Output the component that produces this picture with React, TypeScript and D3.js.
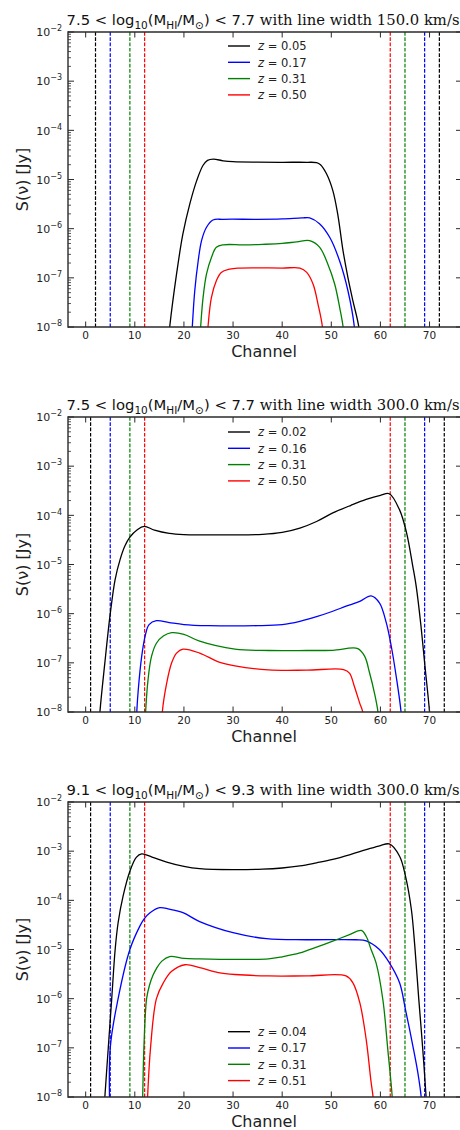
import React from "react";
import * as d3 from "d3";

type Pt = [number, number];

// Axis ticks
const CHANNEL_TICKS = [0, 10, 20, 30, 40, 50, 60, 70];
const FLUX_EXPONENTS = [-8, -7, -6, -5, -4, -3, -2];
const SERIES_COLORS = ["#000000", "#0000ff", "#008000", "#ff0000"];

// Panel 1: 7.5 < log M_HI < 7.7, line width 150 km/s
const P1_REDSHIFTS = ["0.05", "0.17", "0.31", "0.50"];
const P1_EDGES: Pt[] = [[2, 72], [5, 69], [9, 65], [12, 62]];
const P1_Z0: Pt[] = [
  [16.6, 3e-9], [17.1, 1e-8], [18.5, 1.2e-7], [19.8, 7.9e-7], [21.2, 3.2e-6], [22.6, 9.5e-6],
  [23.9, 1.95e-5], [24.8, 2.45e-5], [26, 2.6e-5], [28, 2.4e-5], [30, 2.3e-5], [35, 2.25e-5],
  [40, 2.24e-5], [45, 2.24e-5], [47, 2.2e-5], [47.8, 2.0e-5], [49, 1.32e-5], [50.3, 6.0e-6],
  [51.3, 2.0e-6], [52.4, 3.5e-7], [53.4, 1.0e-7], [54.4, 3.4e-8], [55.6, 1e-8], [56, 3e-9],
];
const P1_Z1: Pt[] = [
  [21.4, 3e-9], [21.7, 1e-8], [22.2, 5.4e-8], [22.9, 2.2e-7], [23.6, 5.8e-7], [24.6, 1.07e-6],
  [25.9, 1.5e-6], [28, 1.55e-6], [35, 1.55e-6], [40, 1.58e-6], [44, 1.65e-6], [45.6, 1.66e-6],
  [47.6, 1.26e-6], [49.7, 6.6e-7], [51.7, 2.2e-7], [53.4, 5.4e-8], [54.7, 1e-8], [55, 3e-9],
];
const P1_Z2: Pt[] = [
  [23.1, 3e-9], [23.4, 1e-8], [23.9, 4e-8], [24.6, 1.2e-7], [25.6, 2.6e-7], [26.6, 4.2e-7],
  [28, 4.7e-7], [32, 4.7e-7], [36, 4.8e-7], [40, 5.0e-7], [43, 5.4e-7], [45.6, 5.7e-7],
  [47.6, 4.2e-7], [49.3, 1.9e-7], [50.7, 7.4e-8], [51.7, 2.5e-8], [52.4, 1e-8], [52.7, 3e-9],
];
const P1_Z3: Pt[] = [
  [24.6, 3e-9], [24.9, 1e-8], [25.6, 4e-8], [26.6, 8.7e-8], [27.6, 1.29e-7], [29.3, 1.5e-7],
  [31, 1.58e-7], [40, 1.58e-7], [43.6, 1.58e-7], [45, 1.29e-7], [46.3, 7.4e-8], [47.3, 2.9e-8],
  [48.2, 1e-8], [48.5, 3e-9],
];

// Panel 2: 7.5 < log M_HI < 7.7, line width 300 km/s
const P2_REDSHIFTS = ["0.02", "0.16", "0.31", "0.50"];
const P23_EDGES: Pt[] = [[1, 73], [5, 69], [9, 65], [12, 62]];
const P2_Z0: Pt[] = [
  [2.6, 3e-9], [2.9, 1e-8], [3.9, 1e-7], [5.0, 1e-6], [6.0, 5.0e-6], [7.0, 1.26e-5], [8.0, 2.4e-5],
  [9.0, 3.6e-5], [10.5, 5.1e-5], [11.9, 5.96e-5], [14, 5.0e-5], [17, 4.3e-5], [20, 4.07e-5],
  [30, 4.0e-5], [36, 4.1e-5], [40, 4.5e-5], [43.6, 5.5e-5], [47, 7.5e-5], [50.3, 1.12e-4],
  [54, 1.6e-4], [57.1, 2.1e-4], [60, 2.55e-4], [61.8, 2.75e-4], [63.9, 1.29e-4], [65.3, 4.5e-5],
  [66.6, 9.1e-6], [67.3, 3.5e-6], [68.2, 6.3e-7], [69.1, 7.9e-8], [70, 1e-8], [70.3, 3e-9],
];
const P2_Z1: Pt[] = [
  [10.2, 3e-9], [10.4, 1e-8], [10.7, 2.8e-8], [11.4, 1.35e-7], [12.1, 3.5e-7], [12.9, 6.0e-7],
  [14.4, 7.2e-7], [17, 6.6e-7], [20, 6.0e-7], [25, 5.7e-7], [35, 5.7e-7], [40, 6.0e-7],
  [43.6, 7.0e-7], [47, 8.7e-7], [50.3, 1.12e-6], [53, 1.42e-6], [55.8, 1.78e-6], [58.1, 2.3e-6],
  [59.8, 1.66e-6], [61.2, 6.5e-7], [62.2, 2.2e-7], [63.2, 5.4e-8], [64.2, 1e-8], [64.5, 3e-9],
];
const P2_Z2: Pt[] = [
  [12.0, 3e-9], [12.2, 1e-8], [12.7, 4.6e-8], [13.4, 1.35e-7], [14.4, 2.5e-7], [15.8, 3.5e-7],
  [17.5, 4.1e-7], [20, 3.8e-7], [23.2, 2.75e-7], [30.4, 1.9e-7], [37.2, 1.78e-7], [45, 1.78e-7],
  [50.3, 1.8e-7], [55.4, 1.95e-7], [56.8, 1.35e-7], [57.8, 6.2e-8], [58.8, 2.4e-8], [59.5, 1e-8],
  [59.8, 3e-9],
];
const P2_Z3: Pt[] = [
  [15.4, 3e-9], [15.6, 1e-8], [16.5, 3.9e-8], [17.5, 1e-7], [18.5, 1.58e-7], [19.8, 1.9e-7],
  [23.2, 1.58e-7], [27, 1.05e-7], [30.4, 8.7e-8], [37.2, 7.2e-8], [45, 7.1e-8], [52.5, 7.3e-8],
  [53.7, 6.2e-8], [54.7, 3.3e-8], [55.8, 1.5e-8], [56.4, 1e-8], [56.7, 3e-9],
];

// Panel 3: 9.1 < log M_HI < 9.3, line width 300 km/s
const P3_REDSHIFTS = ["0.04", "0.17", "0.31", "0.51"];
const P3_Z0: Pt[] = [
  [3.6, 3e-9], [3.9, 1e-8], [4.6, 1e-7], [5.3, 1e-6], [6.0, 1.0e-5], [6.6, 3.5e-5], [7.6, 1.2e-4],
  [9.0, 3.9e-4], [10.3, 7.5e-4], [11.4, 8.8e-4], [13.5, 7.6e-4], [16.5, 6.0e-4], [20, 4.9e-4],
  [23.2, 4.4e-4], [30, 4.2e-4], [36, 4.3e-4], [40, 4.55e-4], [43.6, 5.0e-4], [47, 5.8e-4],
  [50.3, 6.8e-4], [54, 8.6e-4], [57.1, 1.07e-3], [60, 1.3e-3], [61.8, 1.4e-3], [63.9, 7.9e-4],
  [65.1, 3.1e-4], [66.3, 6.5e-5], [67.0, 1.17e-5], [67.8, 1e-6], [68.6, 1e-7], [69.3, 1e-8],
  [69.6, 3e-9],
];
const P3_Z1: Pt[] = [
  [4.98, 3e-9], [5.0, 1e-7], [6.6, 1e-6], [9.0, 1e-5], [11, 2.95e-5], [11.9, 4.2e-5], [13.1, 5.6e-5],
  [15.1, 7.1e-5], [17, 6.6e-5], [19.8, 5.6e-5], [23.2, 3.7e-5], [30.0, 2.2e-5], [36.8, 1.66e-5],
  [45, 1.58e-5], [55, 1.58e-5], [57.1, 1.5e-5], [59.8, 1e-5], [61.8, 5.4e-6], [63.9, 2.1e-6],
  [65.1, 6.0e-7], [66.6, 1.1e-7], [67.6, 3.2e-8], [68.3, 1e-8], [68.6, 3e-9],
];
const P3_Z2: Pt[] = [
  [11.4, 3e-9], [11.6, 1e-8], [11.85, 1e-7], [12.4, 1e-6], [13.0, 1.9e-6], [13.7, 3.0e-6],
  [14.4, 4.1e-6], [15.5, 5.8e-6], [17.1, 7.2e-6], [20, 6.6e-6], [23.2, 6.45e-6], [30.4, 6.3e-6],
  [37.2, 6.45e-6], [40, 7.1e-6], [43.6, 8.5e-6], [47, 1.12e-5], [50.3, 1.48e-5], [53.7, 2.0e-5],
  [56.1, 2.45e-5], [57.1, 1.86e-5], [58.1, 1e-5], [59.1, 5.4e-6], [60.5, 9.5e-7], [61.5, 9.3e-8],
  [62.4, 1e-8], [62.6, 3e-9],
];
const P3_Z3: Pt[] = [
  [12.4, 3e-9], [12.6, 1e-8], [13.2, 1e-7], [14.4, 1e-6], [15.8, 2.1e-6], [17.5, 3.6e-6],
  [20.2, 4.9e-6], [23.2, 4.3e-6], [27, 3.4e-6], [30.4, 3.1e-6], [37.2, 2.9e-6], [45, 2.9e-6],
  [53.0, 2.9e-6], [54.4, 2.1e-6], [55.8, 8.3e-7], [57.1, 1.48e-7], [58.1, 2e-8], [58.5, 1e-8],
  [58.7, 3e-9],
];

const SANS = "'DejaVu Sans', sans-serif";
const SERIF = "'DejaVu Serif', serif";
const AXIS = "#2a2a2a";

const LEFT = 68;
const RIGHT = 460;
const PLOT_H = 295;

type PanelProps = {
  id: string;
  top: number;
  massLo: string;
  massHi: string;
  width: string;
  redshifts: string[];
  series: Pt[][];
  edges: Pt[];
  legendTop: number;
};

function Panel({ id, top, massLo, massHi, width, redshifts, series, edges, legendTop }: PanelProps) {
  const bottom = top + PLOT_H;
  const x = d3.scaleLinear().domain([-3.6, 76.2]).range([LEFT, RIGHT]);
  const y = d3.scaleLog().domain([1e-8, 1e-2]).range([bottom, top]);
  const line = d3
    .line<Pt>()
    .x((d) => x(d[0]))
    .y((d) => y(d[1]))
    .curve(d3.curveCatmullRom.alpha(0.5));

  const minors: number[] = [];
  for (let e = -8; e < -2; e++) {
    for (let k = 2; k <= 9; k++) minors.push(k * Math.pow(10, e));
  }
  const cx = (LEFT + RIGHT) / 2;
  const sub = 10.5;

  return (
    <g>
      <defs>
        <clipPath id={`clip-${id}`}>
          <rect x={LEFT} y={top} width={RIGHT - LEFT} height={PLOT_H} />
        </clipPath>
      </defs>

      {/* band-edge markers */}
      <g clipPath={`url(#clip-${id})`}>
        {edges.map((pair, i) =>
          pair.map((c) => (
            <line
              key={`${i}-${c}`}
              x1={x(c)}
              x2={x(c)}
              y1={top}
              y2={bottom}
              stroke={SERIES_COLORS[i]}
              strokeWidth={1.2}
              strokeDasharray="3.7 1.6"
            />
          ))
        )}
        {series.map((s, i) => (
          <path key={i} d={line(s) ?? ""} fill="none" stroke={SERIES_COLORS[i]} strokeWidth={1.3} />
        ))}
      </g>

      {/* legend */}
      {redshifts.map((z, i) => {
        const ly = legendTop + i * 16.3;
        return (
          <g key={z}>
            <line x1={228} x2={250} y1={ly} y2={ly} stroke={SERIES_COLORS[i]} strokeWidth={1.4} />
            <text x={258} y={ly + 4.2} fontFamily={SANS} fontSize={11.5} fill="#222" style={{ whiteSpace: "pre" }}>
              <tspan fontStyle="italic">z</tspan>
              <tspan>{` = ${z}`}</tspan>
            </text>
          </g>
        );
      })}

      {/* ticks */}
      {CHANNEL_TICKS.map((c) => (
        <g key={c}>
          <line x1={x(c)} x2={x(c)} y1={bottom} y2={bottom - 5.5} stroke={AXIS} strokeWidth={1} />
          <line x1={x(c)} x2={x(c)} y1={top} y2={top + 5.5} stroke={AXIS} strokeWidth={1} />
          <text x={x(c)} y={bottom + 12} textAnchor="middle" fontFamily={SANS} fontSize={10.5} fill="#222">
            {c}
          </text>
        </g>
      ))}
      {minors.map((v) => (
        <line key={v} x1={LEFT} x2={LEFT + 3} y1={y(v)} y2={y(v)} stroke={AXIS} strokeWidth={0.8} />
      ))}
      {FLUX_EXPONENTS.map((e) => {
        const yy = y(Math.pow(10, e));
        return (
          <g key={e}>
            <line x1={LEFT} x2={LEFT + 6} y1={yy} y2={yy} stroke={AXIS} strokeWidth={1} />
            <line x1={RIGHT} x2={RIGHT - 4} y1={yy} y2={yy} stroke={AXIS} strokeWidth={1} />
            <text x={62} y={yy + 4.3} textAnchor="end" fontFamily={SANS} fontSize={11} fill="#222">
              <tspan>10</tspan>
              <tspan fontSize={8} dy={-5}>{`\u2212${Math.abs(e)}`}</tspan>
            </text>
          </g>
        );
      })}

      {/* spines; the right one sits at the page edge */}
      <line x1={LEFT} x2={LEFT} y1={top - 0.7} y2={bottom + 0.7} stroke={AXIS} strokeWidth={1.4} />
      <line x1={LEFT} x2={RIGHT + 1} y1={top} y2={top} stroke={AXIS} strokeWidth={1.4} />
      <line x1={LEFT} x2={RIGHT + 1} y1={bottom} y2={bottom} stroke={AXIS} strokeWidth={1.4} />
      <line x1={RIGHT + 0.7} x2={RIGHT + 0.7} y1={top} y2={bottom} stroke={AXIS} strokeWidth={1.4} />

      {/* axis labels */}
      <text x={cx} y={bottom + 30} textAnchor="middle" fontFamily={SANS} fontSize={16} fill="#222">
        Channel
      </text>
      <text
        transform={`translate(27.5,${(top + bottom) / 2}) rotate(-90)`}
        textAnchor="middle"
        fontFamily={SANS}
        fontSize={16}
        fill="#222"
      >
        S(ν) [Jy]
      </text>

      {/* title */}
      <text x={cx - 1} y={top - 7} textAnchor="middle" fontFamily={SANS} fontSize={14.8} fill="#111" style={{ whiteSpace: "pre" }}>
        <tspan>{`${massLo} < log`}</tspan>
        <tspan fontSize={sub} dy={3.5}>10</tspan>
        <tspan dy={-3.5}>(M</tspan>
        <tspan fontSize={sub} dy={3.5}>HI</tspan>
        <tspan dy={-3.5}>/M</tspan>
        <tspan fontSize={sub} dy={3.5}>⊙</tspan>
        <tspan dy={-3.5}>{`) < ${massHi}`}</tspan>
        <tspan fontFamily={SERIF}>{` with line width ${width} km/s`}</tspan>
      </text>
    </g>
  );
}

export default function App() {
  return (
    <svg
      width={460}
      height={1130}
      style={{ position: "absolute", left: 0, top: 0, background: "#fff" }}
    >
      <Panel
        id="p1"
        top={32}
        massLo="7.5"
        massHi="7.7"
        width="150.0"
        redshifts={P1_REDSHIFTS}
        series={[P1_Z0, P1_Z1, P1_Z2, P1_Z3]}
        edges={P1_EDGES}
        legendTop={46}
      />
      <Panel
        id="p2"
        top={417}
        massLo="7.5"
        massHi="7.7"
        width="300.0"
        redshifts={P2_REDSHIFTS}
        series={[P2_Z0, P2_Z1, P2_Z2, P2_Z3]}
        edges={P23_EDGES}
        legendTop={432}
      />
      <Panel
        id="p3"
        top={802}
        massLo="9.1"
        massHi="9.3"
        width="300.0"
        redshifts={P3_REDSHIFTS}
        series={[P3_Z0, P3_Z1, P3_Z2, P3_Z3]}
        edges={P23_EDGES}
        legendTop={1031.7}
      />
    </svg>
  );
}
